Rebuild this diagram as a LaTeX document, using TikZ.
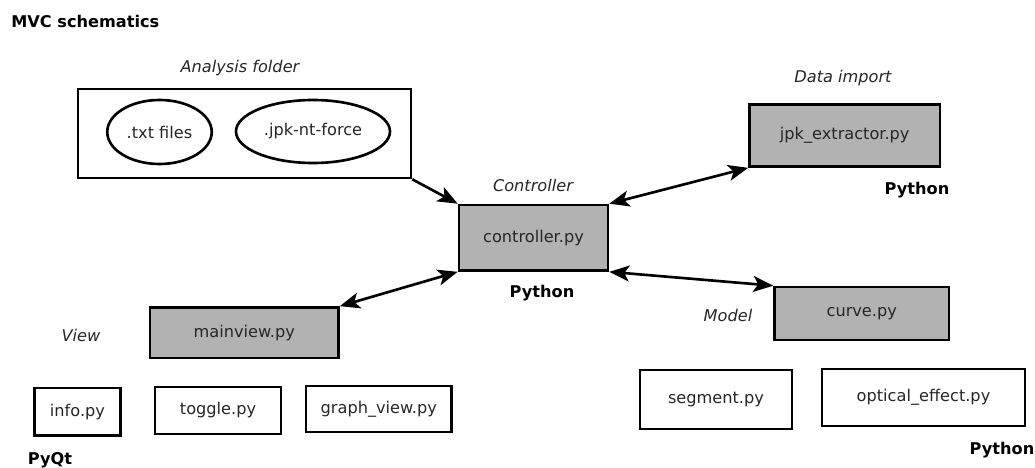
\documentclass[tikz,border=0pt]{standalone}
\usepackage{fontspec}
\setmainfont{DejaVu Sans}
\usetikzlibrary{arrows.meta,shapes.geometric}

\begin{document}
\begin{tikzpicture}[line width=1.5pt,
		font=\fontsize{9.2}{11}\selectfont,text=black!85,
		filebox/.style={draw,rectangle,inner sep=0},
		classbox/.style={filebox,fill=gray!60},
		part/.style={draw,ellipse,inner sep=0},
		tag/.style={inner sep=0,font=\fontsize{9.2}{11}\selectfont\itshape},
		lang/.style={inner sep=0,text=black,font=\fontsize{9.2}{11}\selectfont\bfseries},
		link/.style={-{Stealth[length=0.40cm,width=0.32cm,inset=0.1cm]}},
		twoway/.style={{Stealth[length=0.40cm,width=0.32cm,inset=0.1cm]}-{Stealth[length=0.40cm,width=0.32cm,inset=0.1cm]}}]
		\useasboundingbox (0,0) rectangle (20.7,-9.36);
		
		\node [lang,anchor=west] (title) at (0.2,-0.42) {MVC schematics};
		
		% analysis folder
		\node [tag] (foldertag) at (4.8,-1.36) {Analysis folder};
		\node [filebox,minimum width=6.66cm,minimum height=1.78cm] (folder) at (4.89,-2.67) {};
		\node [part,minimum width=2.09cm,minimum height=1.28cm] (txt) at (3.19,-2.64) {.txt files};
		\node [part,minimum width=3.08cm,minimum height=1.26cm] (jpk) at (6.26,-2.63) {.jpk-nt-force};
		
		% controller
		\node [tag] (ctrltag) at (10.66,-3.70) {Controller};
		\node [classbox,minimum width=2.98cm,minimum height=1.31cm] (ctrl) at (10.67,-4.755) {controller.py};
		\node [lang] (ctrllang) at (10.84,-5.86) {Python};
		
		% data import
		\node [tag] (importtag) at (16.86,-1.56) {Data import};
		\node [classbox,minimum width=3.81cm,minimum height=1.24cm] (extractor) at (16.895,-2.71) {jpk\_extractor.py};
		\node [lang] (importlang) at (18.34,-3.80) {Python};
		
		% view
		\node [tag] (viewtag) at (1.62,-6.70) {View};
		\node [classbox,minimum width=3.77cm,minimum height=1.01cm] (mainview) at (4.885,-6.655) {mainview.py};
		\node [filebox,minimum width=1.72cm,minimum height=0.95cm] (info) at (1.55,-8.235) {info.py};
		\node [filebox,minimum width=2.52cm,minimum height=0.94cm] (toggle) at (4.36,-8.21) {toggle.py};
		\node [filebox,minimum width=2.91cm,minimum height=0.92cm] (graph) at (7.575,-8.18) {graph\_view.py};
		\node [lang] (viewlang) at (1.0,-9.2) {PyQt};
		
		% model
		\node [tag] (modeltag) at (14.56,-6.30) {Model};
		\node [classbox,minimum width=3.49cm,minimum height=1.06cm] (curve) at (17.235,-6.27) {curve.py};
		\node [filebox,minimum width=3.04cm,minimum height=1.18cm] (segment) at (14.32,-7.99) {segment.py};
		\node [filebox,minimum width=4.06cm,minimum height=1.14cm] (optical) at (18.47,-7.95) {optical\_effect.py};
		\node [lang] (modellang) at (20.04,-9.0) {Python};
		
		\draw [link] (folder.south east) -- (ctrl.north west);
		\draw [twoway] (ctrl.north east) -- (extractor.south west);
		\draw [twoway] (mainview.north east) -- (ctrl.south west);
		\draw [twoway] (ctrl.south east) -- (curve.north west);
	\end{tikzpicture}
\end{document}
